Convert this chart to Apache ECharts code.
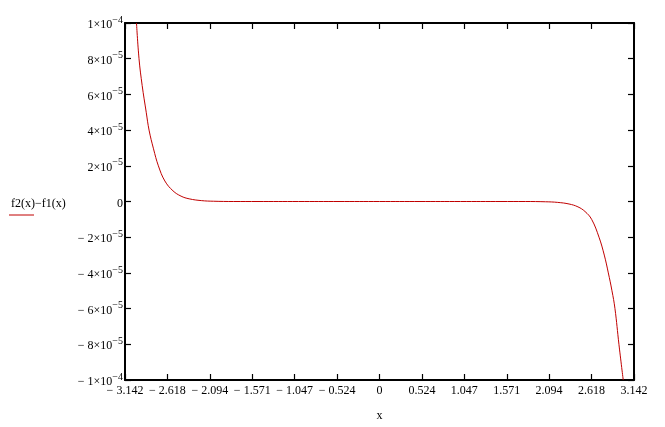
<!DOCTYPE html>
<html>
<head>
<meta charset="utf-8">
<script src="https://cdn.jsdelivr.net/npm/echarts@6/dist/echarts.min.js"></script>
<style>
html,body{margin:0;padding:0;background:#fff;}
#c{width:665px;height:427px;}
</style>
</head>
<body>
<div id="c"></div>
<script>
// x positions (radians) and values of f2(x) - f1(x)
const xValues = [-3.000, -2.969, -2.930, -2.880, -2.845, -2.790, -2.730, -2.650, -2.550, -2.450, -2.350, -2.200, -2.050, -1.800, -1.500, -1.000, -0.500, 0, 0.500, 1.000, 1.500, 1.800, 2.050, 2.200, 2.340, 2.450, 2.537, 2.619, 2.710, 2.775, 2.825, 2.870, 2.907, 2.956, 3.009];
const diffValues = [1.0e-4, 8.0e-5, 6.5e-5, 5.0e-5, 4.0e-5, 2.95e-5, 2.0e-5, 1.15e-5, 6.0e-6, 3.0e-6, 1.5e-6, 5e-7, 1.5e-7, 0, 0, 0, 0, 0, 0, 0, 0, 0, -1.5e-7, -5e-7, -1.4e-6, -3.0e-6, -5.6e-6, -1.0e-5, -2.0e-5, -3.0e-5, -4.0e-5, -5.0e-5, -6.0e-5, -8.0e-5, -1.0e-4];

const xTickValues = [-3.142, -2.618, -2.094, -1.571, -1.047, -0.524, 0, 0.524, 1.047, 1.571, 2.094, 2.618, 3.142];
const xTickLabels = ['\u2212 3.142', '\u2212 2.618', '\u2212 2.094', '\u2212 1.571', '\u2212 1.047', '\u2212 0.524', '0', '0.524', '1.047', '1.571', '2.094', '2.618', '3.142'];
const yTickValues = [-1e-4, -8e-5, -6e-5, -4e-5, -2e-5, 0, 2e-5, 4e-5, 6e-5, 8e-5, 1e-4];
const yTickMantissa = ['\u2212 1', '\u2212 8', '\u2212 6', '\u2212 4', '\u2212 2', '0', '2', '4', '6', '8', '1'];
const yTickExponent = ['\u22124', '\u22125', '\u22125', '\u22125', '\u22125', '', '\u22125', '\u22125', '\u22125', '\u22125', '\u22124'];

const seriesData = xValues.map((x, i) => [x, diffValues[i]]);
const FONT = 'Liberation Serif';

function yLabel(v) {
  let idx = 0, best = Infinity;
  yTickValues.forEach((t, i) => { const d = Math.abs(t - v); if (d < best) { best = d; idx = i; } });
  if (yTickExponent[idx] === '') return '{b|' + yTickMantissa[idx] + '}';
  return '{b|' + yTickMantissa[idx] + '\u00d710}{s|' + yTickExponent[idx] + '}';
}
function xLabel(v) {
  let idx = 0, best = Infinity;
  xTickValues.forEach((t, i) => { const d = Math.abs(t - v); if (d < best) { best = d; idx = i; } });
  return xTickLabels[idx];
}

const chart = echarts.init(document.getElementById('c'), null, {renderer: 'canvas'});
const axisLine = {show: true, onZero: false, lineStyle: {color: '#000', width: 2}};
const tick = {show: true, inside: true, length: 6, lineStyle: {color: '#000', width: 1.2}};
chart.setOption({
  backgroundColor: '#fff',
  animation: false,
  grid: {left: 125, top: 23, right: 31, bottom: 44, containLabel: false},
  xAxis: [{
    type: 'value', min: -3.142, max: 3.142, position: 'bottom',
    name: 'x', nameLocation: 'middle', nameGap: 30,
    nameTextStyle: {fontFamily: FONT, fontSize: 12, color: '#000'},
    axisLine: axisLine,
    axisTick: Object.assign({customValues: xTickValues}, tick),
    axisLabel: {customValues: xTickValues, formatter: xLabel, fontFamily: FONT, fontSize: 12, color: '#000', margin: 5},
    splitLine: {show: false}
  }, {
    type: 'value', min: -3.142, max: 3.142, position: 'top',
    axisLine: axisLine,
    axisTick: Object.assign({customValues: xTickValues}, tick),
    axisLabel: {show: false},
    splitLine: {show: false}
  }],
  yAxis: [{
    type: 'value', min: -1e-4, max: 1e-4, interval: 2e-5, position: 'left',
    axisLine: axisLine,
    axisTick: tick,
    axisLabel: {
      formatter: yLabel, margin: 2,
      rich: {
        b: {fontFamily: FONT, fontSize: 12, color: '#000', verticalAlign: 'bottom', lineHeight: 16},
        s: {fontFamily: FONT, fontSize: 10, color: '#000', verticalAlign: 'top', lineHeight: 16}
      }
    },
    splitLine: {show: false}
  }, {
    type: 'value', min: -1e-4, max: 1e-4, interval: 2e-5, position: 'right',
    axisLine: axisLine,
    axisTick: tick,
    axisLabel: {show: false},
    splitLine: {show: false}
  }],
  series: [{
    type: 'line', xAxisIndex: 0, yAxisIndex: 0,
    data: seriesData, smooth: 0.4,
    showSymbol: false, clip: true,
    lineStyle: {color: '#c00000', width: 1}
  }],
  graphic: [
    {type: 'text', left: 11, top: 198, style: {text: 'f2(x)\u2212f1(x)', font: '12px "Liberation Serif"', fill: '#000'}},
    {type: 'line', shape: {x1: 9, y1: 215, x2: 34, y2: 215}, style: {stroke: '#c00000', lineWidth: 1}}
  ]
});
</script>
</body>
</html>
